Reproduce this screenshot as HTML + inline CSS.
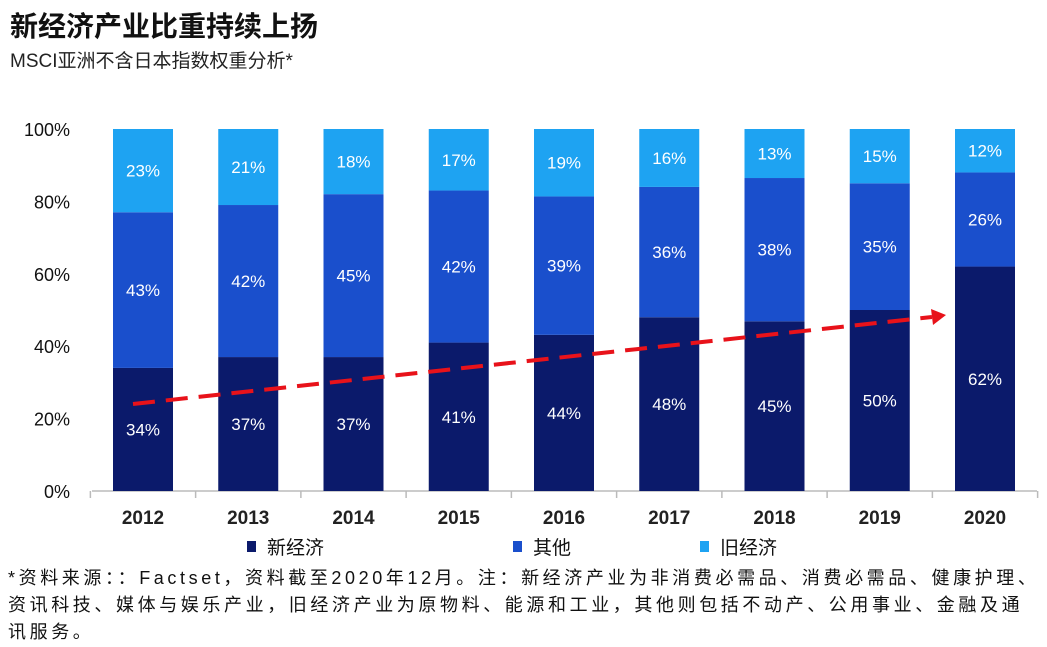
<!DOCTYPE html>
<html><head><meta charset="utf-8"><style>
body{margin:0;background:#fff;font-family:"Liberation Sans","Noto Sans CJK SC",sans-serif;}
#wrap{position:relative;width:1047px;height:647px;overflow:hidden;background:#fff}
.t{position:absolute;white-space:nowrap;color:#111}
</style></head><body>
<div id="wrap">
<div class="t" style="left:10px;top:5px;font-size:28px;font-weight:bold;">新经济产业比重持续上扬</div>
<div class="t" style="left:10px;top:46px;font-size:19px;color:#222">MSCI亚洲不含日本指数权重分析*</div>
<svg id="chart" width="1047" height="647" style="position:absolute;left:0;top:0"></svg>
<div class="t" style="left:8px;top:565px;font-size:18px;line-height:27px;letter-spacing:3.6px;color:#111">*资料来源：：Factset，资料截至2020年12月。注：新经济产业为非消费必需品、消费必需品、健康护理、<br>资讯科技、媒体与娱乐产业，旧经济产业为原物料、能源和工业，其他则包括不动产、公用事业、金融及通<br>讯服务。</div>
</div>
<script>
const years=["2012","2013","2014","2015","2016","2017","2018","2019","2020"];
const newEco=[34,37,37,41,44,48,45,50,62];
const other=[43,42,45,42,39,36,38,35,26];
const oldEco=[23,21,18,17,19,16,13,15,12];
const yTicks=[0,20,40,60,80,100];
const colors=["#0b1a6b","#1a4fcc","#1ea3f2"];
const legendNames=["新经济","其他","旧经济"];
const svg=document.getElementById('chart');
const NS="http://www.w3.org/2000/svg";
const y0=491,y1=129,x0=143,step=105.25,bw=60;
const ys=v=>y0-(v/100)*(y0-y1);
const xs=i=>x0+i*step;
function mk(tag,attrs){const e=document.createElementNS(NS,tag);for(const k in attrs)e.setAttribute(k,attrs[k]);svg.appendChild(e);return e;}
yTicks.forEach(v=>{
  const t=mk('text',{x:70,y:ys(v)+7,'text-anchor':'end','font-size':18,fill:'#111','font-family':'Liberation Sans, sans-serif'});
  t.textContent=v+'%';
  
  
});
const ax=mk('line',{x1:92,x2:1037,y1:y0,y2:y0,stroke:'#bbb','stroke-width':1.5});


for(let i=0;i<=years.length;i++){
  const tx=xs(i)-step/2;
  const tk=mk('line',{x1:tx,x2:tx,y1:y0,y2:y0+7,stroke:'#bbb','stroke-width':1.5});
  
  
}
const series=[newEco,other,oldEco];
years.forEach((yr,i)=>{
  const tot=newEco[i]+other[i]+oldEco[i];
  let base=0;
  series.forEach((s,k)=>{
    const v=s[i]/tot*100;
    const r=mk('rect',{x:xs(i)-bw/2,y:ys(base+v),width:bw,height:ys(base)-ys(base+v),fill:colors[k]});
    
    
    const l=mk('text',{x:xs(i),y:(ys(base)+ys(base+v))/2+6,'text-anchor':'middle','font-size':17,fill:'#fff','font-family':'Liberation Sans, sans-serif'});
    l.textContent=s[i]+'%';
    
    
    base+=v;
  });
  const xl=mk('text',{x:xs(i),y:524,'text-anchor':'middle','font-size':19,'font-weight':'bold',fill:'#222','font-family':'Liberation Sans, sans-serif'});
  xl.textContent=yr;
  
  
});
const arr=mk('line',{x1:133,y1:404,x2:932,y2:317,stroke:'#e8121a','stroke-width':4,'stroke-dasharray':'22,11'});


const ah=mk('polygon',{points:'946,315 931,309 933,325',fill:'#e8121a'});


const lx=[247,513,700];
legendNames.forEach((n,k)=>{
  const s=mk('rect',{x:lx[k],y:541,width:9,height:11,fill:colors[k]});
  
  
  const t=mk('text',{x:lx[k]+20,y:554,'font-size':19,fill:'#111','font-family':'Liberation Sans, Noto Sans CJK SC, sans-serif'});
  t.textContent=n;
  
  
});
</script>
</body></html>
